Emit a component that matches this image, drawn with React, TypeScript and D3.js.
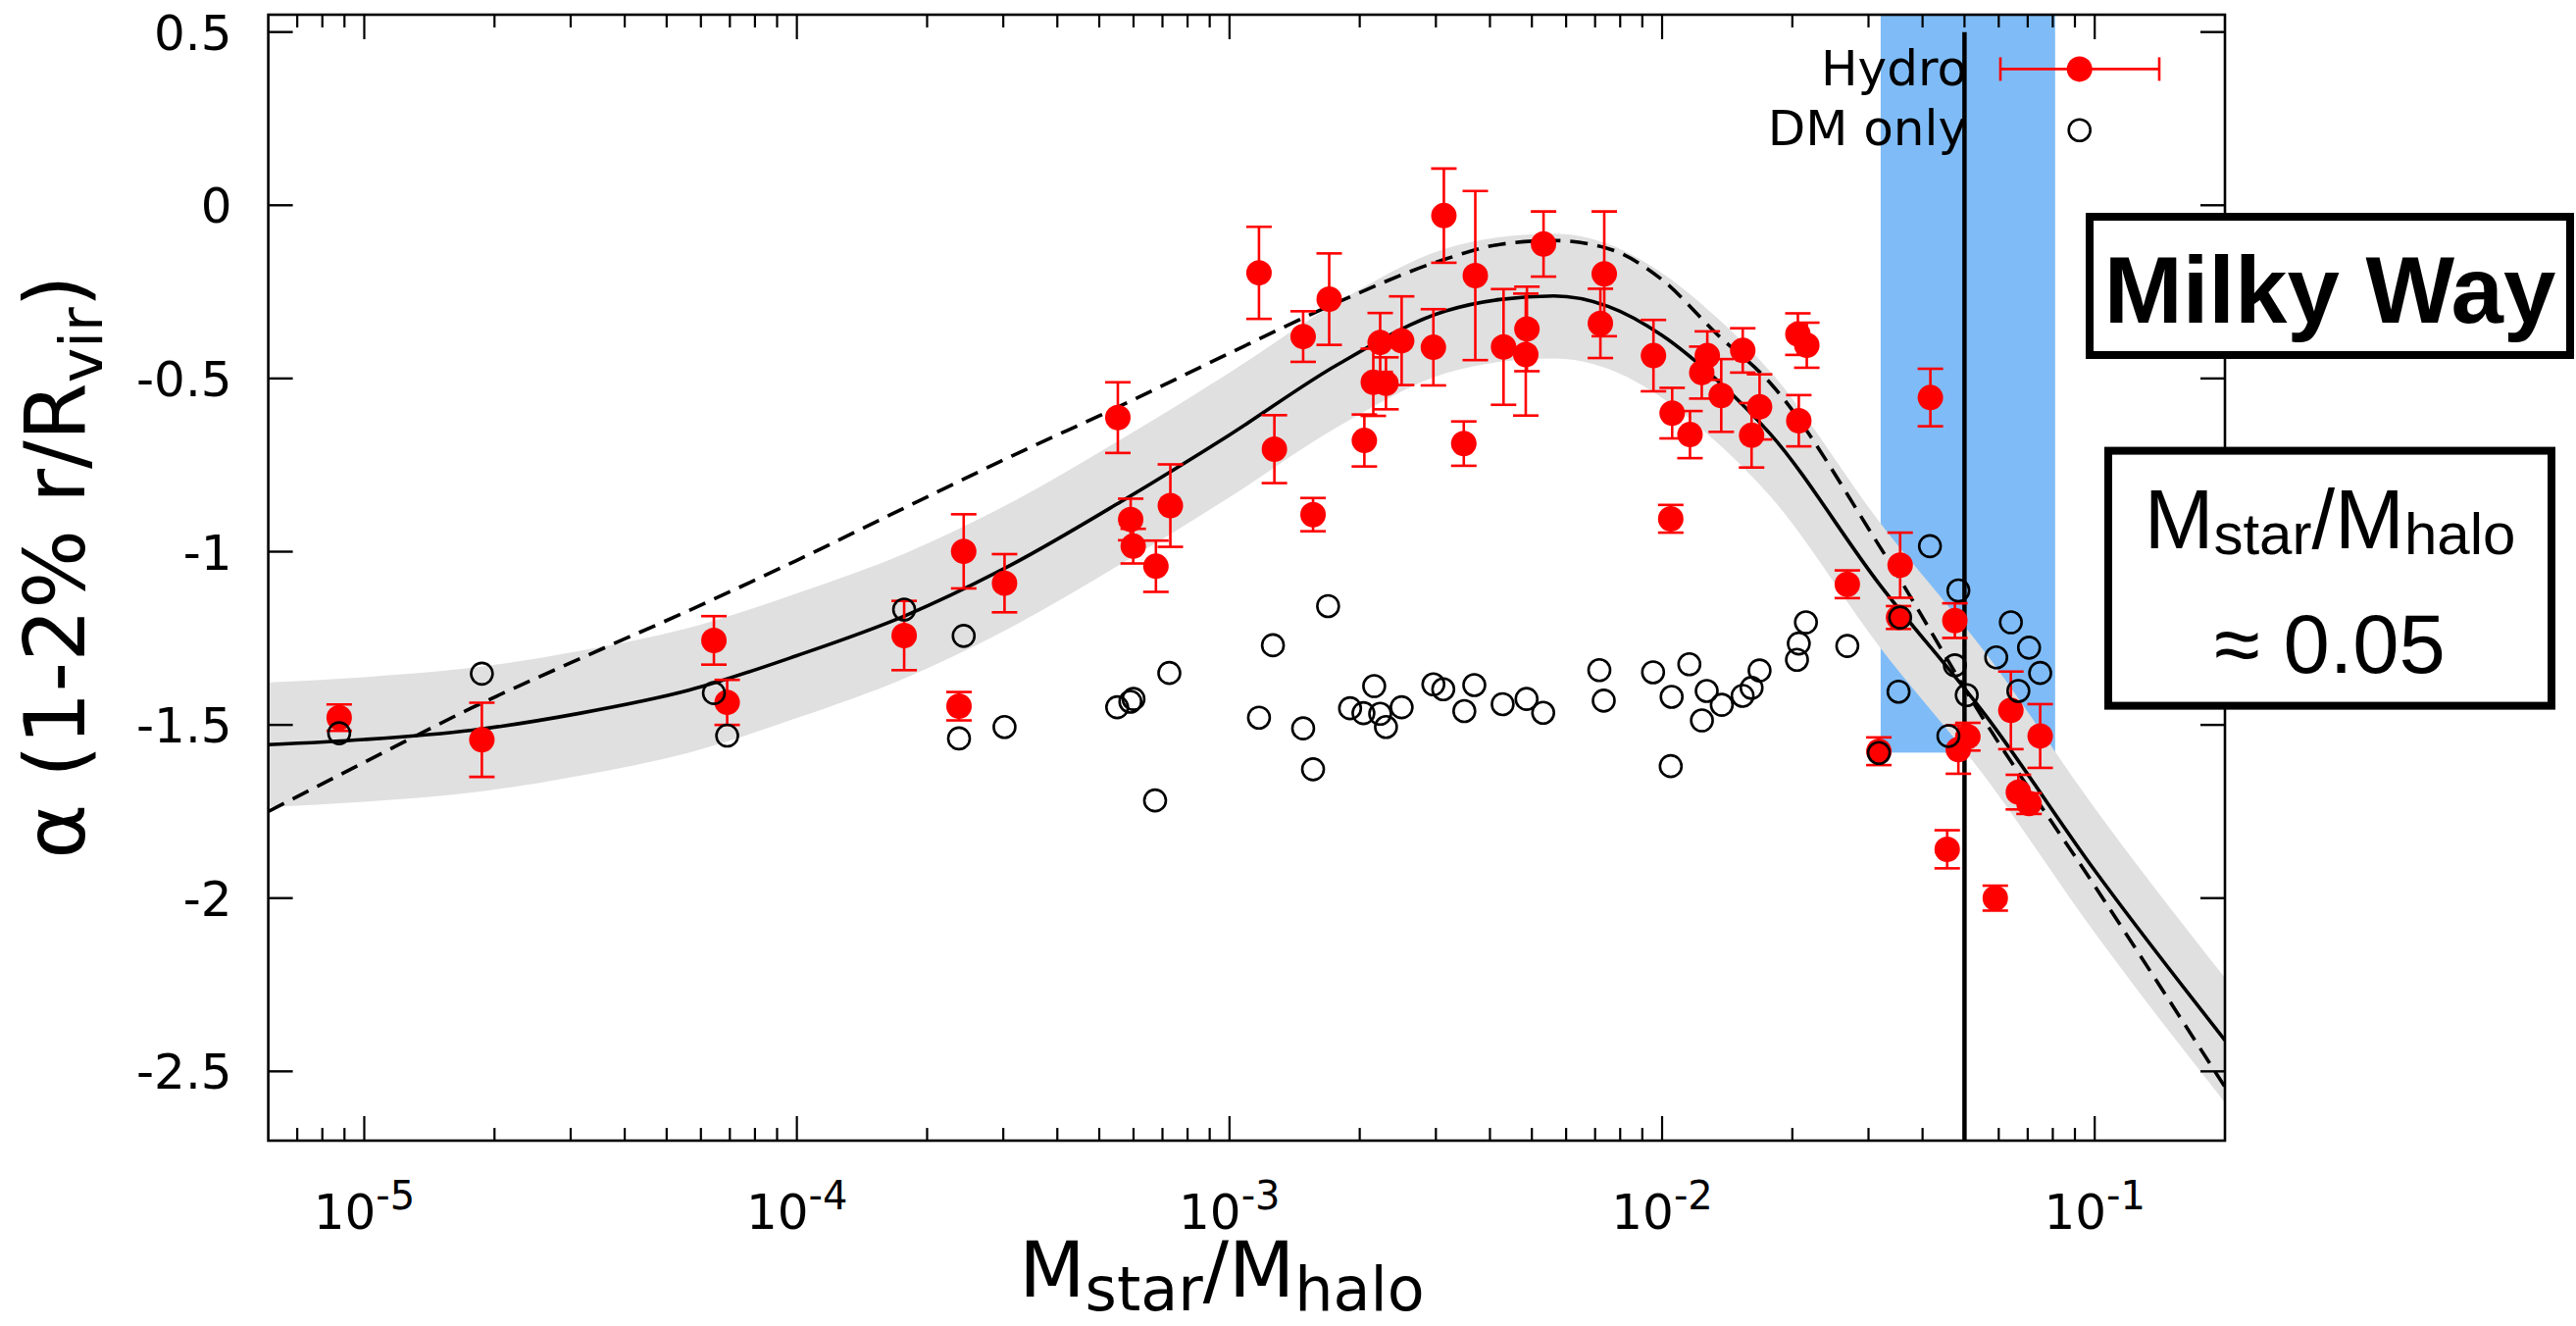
import React from 'react';
import * as d3 from 'd3';

// ---------- canvas & frame ----------
const WIDTH = 2627;
const HEIGHT = 1352;
const PLOT = { left: 273.6, right: 2269, top: 15, bottom: 1163 };

const X_DOMAIN: [number, number] = [6e-6, 0.2];
const Y_DOMAIN: [number, number] = [-2.7, 0.55];

// ---------- axis ticks ----------
const yTickValues = [0.5, 0, -0.5, -1, -1.5, -2, -2.5];
const yTickLabels = ['0.5', '0', '-0.5', '-1', '-1.5', '-2', '-2.5'];
const xTickValues = [1e-5, 1e-4, 1e-3, 1e-2, 1e-1];
const xTickExponents = ['-5', '-4', '-3', '-2', '-1'];

// ---------- Hydro runs: stellar-to-halo mass ratio, inner slope, error ----------
const hydroX = [
  8.75e-6, 1.87e-5, 6.43e-5, 6.9e-5, 1.77e-4, 2.37e-4, 2.43e-4, 3.02e-4, 5.52e-4, 5.91e-4,
  5.99e-4, 6.76e-4, 7.3e-4, 1.17e-3, 1.27e-3, 1.48e-3, 1.56e-3, 1.7e-3, 2.05e-3, 2.15e-3,
  2.23e-3, 2.3e-3, 2.5e-3, 2.96e-3, 3.13e-3, 3.48e-3, 3.7e-3, 4.3e-3, 4.87e-3, 4.84e-3,
  5.32e-3, 7.2e-3, 7.35e-3, 9.55e-3, 0.01047, 0.01055, 0.0116, 0.01235, 0.01272, 0.0137,
  0.01536, 0.0161, 0.0168, 0.0206, 0.0207, 0.0216, 0.0268, 0.0317, 0.0355, 0.0352,
  0.0417, 0.0456, 0.0475, 0.0484, 0.0509, 0.0589, 0.064, 0.0666, 0.0705, 0.0748,
];
const hydroAlpha = [
  -1.479, -1.543, -1.256, -1.435, -1.242, -1.446, -0.999, -1.091, -0.613, -0.907,
  -0.984, -1.042, -0.867, -0.195, -0.704, -0.379, -0.893, -0.271, -0.679, -0.511,
  -0.396, -0.514, -0.391, -0.41, -0.03, -0.688, -0.203, -0.409, -0.357, -0.431,
  -0.112, -0.341, -0.198, -0.434, -0.905, -0.6, -0.662, -0.483, -0.434, -0.549,
  -0.419, -0.664, -0.582, -0.372, -0.622, -0.404, -1.094, -1.576, -1.039, -1.19,
  -0.555, -1.859, -1.199, -1.571, -1.534, -2.0, -1.458, -1.694, -1.727, -1.532,
];
const hydroErr = [
  0.038, 0.107, 0.07, 0.065, 0.1, 0.041, 0.107, 0.084, 0.102, 0.06,
  0.05, 0.074, 0.119, 0.133, 0.098, 0.073, 0.048, 0.132, 0.075, 0.097,
  0.085, 0.075, 0.128, 0.11, 0.136, 0.064, 0.244, 0.167, 0.122, 0.176,
  0.094, 0.1, 0.18, 0.103, 0.04, 0.073, 0.068, 0.075, 0.07, 0.105,
  0.064, 0.093, 0.094, 0.06, 0.074, 0.065, 0.04, 0.04, 0.094, 0.033,
  0.083, 0.055, 0.05, 0.07, 0.04, 0.036, 0.112, 0.05, 0.03, 0.092,
];

// ---------- DM-only runs ----------
const dmX = [
  8.75e-6, 1.87e-5, 6.43e-5, 6.9e-5, 1.77e-4, 2.37e-4, 2.43e-4, 3.02e-4, 5.5e-4, 5.9e-4,
  6.0e-4, 6.73e-4, 7.26e-4, 1.17e-3, 1.26e-3, 1.48e-3, 1.56e-3, 1.69e-3, 1.9e-3, 2.04e-3,
  2.16e-3, 2.23e-3, 2.3e-3, 2.5e-3, 2.96e-3, 3.12e-3, 3.49e-3, 3.68e-3, 4.28e-3, 4.86e-3,
  5.31e-3, 7.16e-3, 7.33e-3, 9.53e-3, 0.01047, 0.01052, 0.01156, 0.01236, 0.01268, 0.01374,
  0.01535, 0.0161, 0.0168, 0.0205, 0.0207, 0.0215, 0.0268, 0.0317, 0.0352, 0.0355,
  0.0416, 0.0459, 0.0475, 0.0484, 0.0506, 0.0592, 0.064, 0.0666, 0.0705, 0.0748,
];
const dmAlpha = [
  -1.524, -1.352, -1.408, -1.531, -1.167, -1.539, -1.243, -1.506, -1.449, -1.433,
  -1.425, -1.718, -1.35, -1.479, -1.27, -1.51, -1.628, -1.157, -1.452, -1.466,
  -1.388, -1.468, -1.506, -1.449, -1.383, -1.397, -1.46, -1.385, -1.44, -1.425,
  -1.465, -1.342, -1.43, -1.348, -1.619, -1.419, -1.325, -1.487, -1.402, -1.442,
  -1.416, -1.393, -1.343, -1.312, -1.265, -1.204, -1.272, -1.581, -1.404, -1.19,
  -0.984, -1.532, -1.328, -1.112, -1.414, -1.305, -1.204, -1.402, -1.277, -1.35,
];

// ---------- fitted relations (sampled) ----------
const fitX = [
  6e-6, 1e-5, 1.778e-5, 3.162e-5, 5.623e-5, 1e-4, 1.778e-4, 3.162e-4, 5.623e-4, 1e-3,
  1.778e-3, 3.162e-3, 4.217e-3, 5.623e-3, 7.499e-3, 1e-2, 1.334e-2, 1.778e-2, 3.162e-2,
  5.623e-2, 0.1, 0.2,
];
const fitSolid = [
  -1.557, -1.542, -1.515, -1.466, -1.4, -1.3, -1.185, -1.035, -0.855, -0.663,
  -0.46, -0.305, -0.272, -0.262, -0.292, -0.376, -0.503, -0.66, -1.09,
  -1.476, -1.92, -2.41,
];
const fitDashed = [
  -1.75, -1.608, -1.45, -1.308, -1.17, -1.025, -0.873, -0.722, -0.578, -0.427,
  -0.28, -0.155, -0.113, -0.102, -0.125, -0.215, -0.37, -0.513, -0.979,
  -1.497, -1.965, -2.545,
];
const bandUpper = [
  -1.377, -1.362, -1.335, -1.286, -1.22, -1.12, -1.005, -0.855, -0.675, -0.483,
  -0.28, -0.125, -0.092, -0.082, -0.112, -0.196, -0.323, -0.48, -0.91,
  -1.296, -1.74, -2.23,
];
const bandLower = [
  -1.737, -1.722, -1.695, -1.646, -1.58, -1.48, -1.365, -1.215, -1.035, -0.843,
  -0.64, -0.485, -0.452, -0.442, -0.472, -0.556, -0.683, -0.84, -1.27,
  -1.656, -2.1, -2.59,
];

// ---------- Milky Way marker ----------
const mwRange = [0.032, 0.081];
const mwBandBottom = -1.58;
const mwRatio = 0.05;
const mwLineTop = 0.5;

const RED = '#ff0000';
const BLUE = '#7fbcf7';
const GREY = '#e0e0e0';
const GP_FONT = '"DejaVu Sans", sans-serif';
const BOX_FONT = '"Liberation Sans", Arial, Helvetica, sans-serif';

export default function App() {
  const x = d3.scaleLog().domain(X_DOMAIN).range([PLOT.left, PLOT.right]);
  const y = d3.scaleLinear().domain(Y_DOMAIN).range([PLOT.bottom, PLOT.top]);

  const solidPts: [number, number][] = fitX.map((v, i) => [v, fitSolid[i]]);
  const dashedPts: [number, number][] = fitX.map((v, i) => [v, fitDashed[i]]);
  const bandPts = fitX.map((v, i) => ({ x: v, lo: bandLower[i], hi: bandUpper[i] }));

  const line = d3
    .line<[number, number]>()
    .x((d) => x(d[0]))
    .y((d) => y(d[1]))
    .curve(d3.curveMonotoneX);
  const area = d3
    .area<{ x: number; lo: number; hi: number }>()
    .x((d) => x(d.x))
    .y0((d) => y(d.lo))
    .y1((d) => y(d.hi))
    .curve(d3.curveMonotoneX);

  const minorTicks: number[] = [];
  for (let k = -6; k <= -1; k++) {
    for (let m = 2; m <= 9; m++) {
      const v = m * Math.pow(10, k);
      if (v > X_DOMAIN[0] && v < X_DOMAIN[1] * 0.999) minorTicks.push(v);
    }
  }

  const hydro = hydroX.map((v, i) => ({ x: v, a: hydroAlpha[i], e: hydroErr[i] }));
  const dm = dmX.map((v, i) => ({ x: v, a: dmAlpha[i] }));

  const capHalf = 13;
  const majorLen = 25;
  const minorLen = 13;

  return (
    <svg
      width={WIDTH}
      height={HEIGHT}
      viewBox={`0 0 ${WIDTH} ${HEIGHT}`}
      style={{ position: 'absolute', left: 0, top: 0, display: 'block', background: '#fff' }}
    >
      <defs>
        <clipPath id="plot-clip">
          <rect x={PLOT.left} y={PLOT.top} width={PLOT.right - PLOT.left} height={PLOT.bottom - PLOT.top} />
        </clipPath>
      </defs>
      <rect x={0} y={0} width={WIDTH} height={HEIGHT} fill="#fff" />

      <g clipPath="url(#plot-clip)">
        {/* Milky Way mass-ratio band */}
        <rect
          x={x(mwRange[0])}
          y={y(Y_DOMAIN[1])}
          width={x(mwRange[1]) - x(mwRange[0])}
          height={y(mwBandBottom) - y(Y_DOMAIN[1])}
          fill={BLUE}
        />
        {/* scatter band around the hydro fit */}
        <path d={area(bandPts) || ''} fill={GREY} />
        <path d={line(dashedPts) || ''} fill="none" stroke="#000" strokeWidth={3.6} strokeDasharray="18 10" />
        <path d={line(solidPts) || ''} fill="none" stroke="#000" strokeWidth={3.6} />
        <line x1={x(mwRatio)} x2={x(mwRatio)} y1={y(mwLineTop)} y2={PLOT.bottom} stroke="#000" strokeWidth={4.5} />

        {/* Hydro points with error bars */}
        {hydro.map((d, i) => {
          const cx = x(d.x);
          const yt = y(d.a + d.e);
          const yb = y(d.a - d.e);
          return (
            <g key={`h${i}`} stroke={RED} strokeWidth={2.6}>
              <line x1={cx} x2={cx} y1={yt} y2={yb} />
              <line x1={cx - capHalf} x2={cx + capHalf} y1={yt} y2={yt} />
              <line x1={cx - capHalf} x2={cx + capHalf} y1={yb} y2={yb} />
              <circle cx={cx} cy={y(d.a)} r={13} fill={RED} stroke="none" />
            </g>
          );
        })}

        {/* DM-only points */}
        {dm.map((d, i) => (
          <circle key={`d${i}`} cx={x(d.x)} cy={y(d.a)} r={11} fill="none" stroke="#000" strokeWidth={2.6} />
        ))}
      </g>

      {/* frame */}
      <rect
        x={PLOT.left}
        y={PLOT.top}
        width={PLOT.right - PLOT.left}
        height={PLOT.bottom - PLOT.top}
        fill="none"
        stroke="#000"
        strokeWidth={2.6}
      />

      {/* y ticks (mirrored) */}
      {yTickValues.map((v, i) => (
        <g key={`yt${i}`} stroke="#000" strokeWidth={2.4}>
          <line x1={PLOT.left} x2={PLOT.left + majorLen} y1={y(v)} y2={y(v)} />
          <line x1={PLOT.right} x2={PLOT.right - majorLen} y1={y(v)} y2={y(v)} />
        </g>
      ))}
      {yTickValues.map((v, i) => (
        <text
          key={`yl${i}`}
          x={PLOT.left - 37}
          y={y(v) + 18}
          textAnchor="end"
          fontFamily={GP_FONT}
          fontSize={50}
          fill="#000"
        >
          {yTickLabels[i]}
        </text>
      ))}

      {/* x ticks (mirrored) */}
      {xTickValues.map((v, i) => (
        <g key={`xt${i}`} stroke="#000" strokeWidth={2.2}>
          <line x1={x(v)} x2={x(v)} y1={PLOT.bottom} y2={PLOT.bottom - majorLen} />
          <line x1={x(v)} x2={x(v)} y1={PLOT.top} y2={PLOT.top + majorLen} />
        </g>
      ))}
      {minorTicks.map((v, i) => (
        <g key={`xm${i}`} stroke="#000" strokeWidth={2.2}>
          <line x1={x(v)} x2={x(v)} y1={PLOT.bottom} y2={PLOT.bottom - minorLen} />
          <line x1={x(v)} x2={x(v)} y1={PLOT.top} y2={PLOT.top + minorLen} />
        </g>
      ))}
      {xTickValues.map((v, i) => (
        <text
          key={`xl${i}`}
          x={x(v)}
          y={1252.5}
          textAnchor="middle"
          fontFamily={GP_FONT}
          fontSize={50}
          fill="#000"
        >
          10
          <tspan fontSize={40} dy={-20}>
            {xTickExponents[i]}
          </tspan>
        </text>
      ))}

      {/* axis titles */}
      <text x={1246} y={1322} textAnchor="middle" fontFamily={GP_FONT} fontSize={78} fill="#000">
        M
        <tspan fontSize={62} dy={14}>star</tspan>
        <tspan fontSize={78} dy={-14}>/M</tspan>
        <tspan fontSize={62} dy={14}>halo</tspan>
      </text>
      <text
        transform="translate(86, 578) rotate(-90)"
        textAnchor="middle"
        fontFamily={GP_FONT}
        fontSize={85}
        fill="#000"
      >
        α (1-2% r/R
        <tspan fontSize={60} dy={18}>vir</tspan>
        <tspan fontSize={85} dy={-18}>)</tspan>
      </text>

      {/* legend */}
      <text x={2006} y={87} textAnchor="end" fontFamily={GP_FONT} fontSize={50} fill="#000">
        Hydro
      </text>
      <g stroke={RED} strokeWidth={2.6}>
        <line x1={2040} x2={2202} y1={70.4} y2={70.4} />
        <line x1={2040} x2={2040} y1={58.4} y2={82.4} />
        <line x1={2202} x2={2202} y1={58.4} y2={82.4} />
      </g>
      <circle cx={2120.7} cy={70.4} r={13} fill={RED} />
      <text x={2006} y={148} textAnchor="end" fontFamily={GP_FONT} fontSize={50} fill="#000">
        DM only
      </text>
      <circle cx={2120.7} cy={132.7} r={11} fill="none" stroke="#000" strokeWidth={2.6} />

      {/* annotation boxes */}
      <rect x={2131} y={221} width={490} height={141} fill="#fff" stroke="#000" strokeWidth={8} />
      <text x={2376} y={329} textAnchor="middle" fontFamily={BOX_FONT} fontWeight="bold" fontSize={96} fill="#000">
        Milky Way
      </text>

      <rect x={2150} y={459.6} width={452} height={260} fill="#fff" stroke="#000" strokeWidth={8} />
      <text x={2376} y={558.7} textAnchor="middle" fontFamily={BOX_FONT} fontSize={85} fill="#000">
        M
        <tspan fontSize={60} dy={6.5}>star</tspan>
        <tspan fontSize={85} dy={-6.5}>/M</tspan>
        <tspan fontSize={60} dy={6.5}>halo</tspan>
      </text>
      <text x={2376} y={686} textAnchor="middle" fontFamily={BOX_FONT} fontSize={85} fill="#000">
        ≈ 0.05
      </text>
    </svg>
  );
}
